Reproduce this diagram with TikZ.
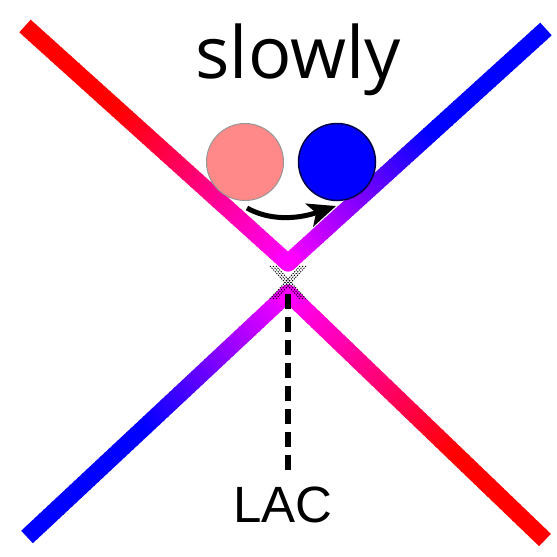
\documentclass[tikz,border=0pt]{standalone}
\usepackage{fontspec}
\setmainfont{Open Sans}
\newfontfamily\lacfont{Liberation Sans}
\usetikzlibrary{calc,arrows.meta}
\definecolor{pinkball}{RGB}{255,136,136}
\definecolor{pinkedge}{RGB}{150,150,150}
\definecolor{blueedge}{RGB}{0,0,70}
\definecolor{mg}{RGB}{255,0,255}
\definecolor{rd}{RGB}{255,0,0}
\definecolor{bl}{RGB}{0,0,255}
\tikzset{
  armseg/.style={line width=17pt, line cap=butt},
  ball/.style={circle, minimum size=77pt, inner sep=0pt},
  hatch/.style={black, line width=0.9pt, dash pattern=on 1.2pt off 1.2pt},
}
\newcommand{\gradarm}[4]{% start, vertex, far colour, start fraction
  \foreach \i in {0,...,59}{
    \pgfmathsetmacro\ta{\i/60}
    \pgfmathsetmacro\tb{min(1,(\i+1.3)/60)}
    \pgfmathsetmacro\pp{max(0,min(100,((\i+0.5)/60-#4)/(1-#4)*100))}
    \draw[armseg, color=mg!\pp!#3] ($(#1)!\ta!(#2)$) -- ($(#1)!\tb!(#2)$);
  }
  \draw[line width=17pt, mg, line cap=round] ($(#1)!0.985!(#2)$) -- (#2);
}
\begin{document}
\begin{tikzpicture}[x=1pt,y=-1pt]
\useasboundingbox (0,0) rectangle (557,557);
\coordinate (UL) at (25,26);
\coordinate (UR) at (546,29);
\coordinate (UV) at (288,263);
\coordinate (LL) at (27,537);
\coordinate (LR) at (545,540);
\coordinate (LV) at (288,293);
% upper branch
\gradarm{UL}{UV}{rd}{0.35}
\gradarm{UR}{UV}{bl}{0.45}
% lower branch
\gradarm{LL}{LV}{bl}{0.45}
\gradarm{LR}{LV}{rd}{0.35}
% crossing hatch
\foreach \d in {-3,0,3}{
  \draw[hatch] (273+\d,266) -- (303+\d,299);
  \draw[hatch] (303+\d,266) -- (273+\d,299);
}
% dashed LAC line
\coordinate (DT) at (288,294);
\node[font=\lacfont\fontsize{51}{51}\selectfont, anchor=base] (lac) at (283,522) {LAC};
\draw[line width=6pt, dash pattern=on 15pt off 8pt] (DT) -- (288,472);
% title
\node[font=\fontsize{72}{72}\selectfont, anchor=base] (title) at (298,78) {slowly};
% balls
\node[ball, fill=pinkball, draw=pinkedge, line width=1pt] (p) at (245,162) {};
\node[ball, fill=blue, draw=blueedge, line width=1.5pt] (b) at (337,162) {};
% arrow
\draw[line width=5pt, -{Stealth[length=28pt,width=24pt,inset=7pt]}] (247,208) .. controls (268,220) and (295,220) .. (336,206);
\end{tikzpicture}
\end{document}
